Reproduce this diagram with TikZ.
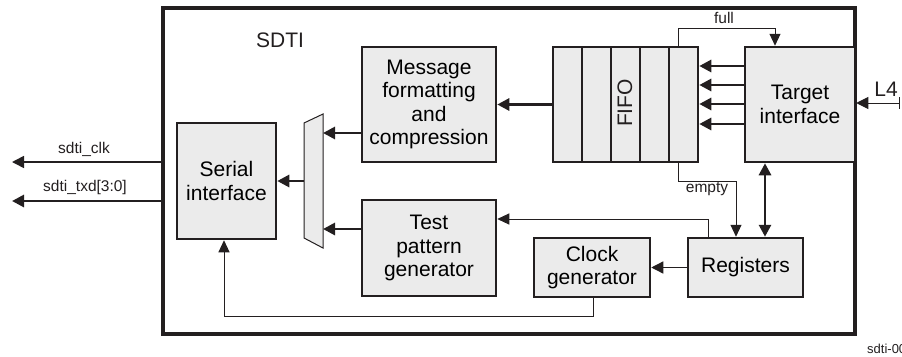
\documentclass[tikz,border=0pt]{standalone}
\usepackage{fontspec}
\setmainfont{Liberation Sans}
\usetikzlibrary{arrows.meta}
\definecolor{boxfill}{HTML}{EBEBEB}
\definecolor{ink}{HTML}{231F20}
\tikzset{
  blk/.style={draw=ink, fill=boxfill, line width=2.5pt, align=center, inner sep=0pt,
    font=\fontsize{21}{23.5}\selectfont},
  tarr/.style={draw=ink, line width=2.8pt, -{Triangle[length=12pt,width=12pt]}},
  narr/.style={draw=ink, line width=1pt, -{Triangle[length=12pt,width=11pt]}},
  lbl/.style={font=\fontsize{15.5}{17}\selectfont, text=ink, inner sep=0pt},
  big/.style={font=\fontsize{21}{23.5}\selectfont, text=ink, inner sep=0pt},
}
\begin{document}
\begin{tikzpicture}[x=1pt,y=-1pt]
\useasboundingbox (0,0) rectangle (902,356);
% outer box
\node[draw=ink, line width=3.5pt, minimum width=692pt, minimum height=326pt, inner sep=0pt] (outer) at (509,171) {};
\node[big] (sdti) at (280,40) {SDTI};
% blocks
\node[blk, minimum width=134pt, minimum height=115pt] (msg) at (429,104.5) {Message\\formatting\\and\\compression};
\node[blk, minimum width=145pt, minimum height=115pt] (fifo) at (625.5,104.5) {};
\foreach \x in {582,611,640,669} \draw[ink, line width=2.5pt] (\x,47) -- (\x,162);
\node[big, rotate=90] (fifolbl) at (625,103) {FIFO};
\node[blk, minimum width=110pt, minimum height=115pt] (target) at (800,104.5) {Target\\interface};
\node[blk, minimum width=99pt, minimum height=116pt] (serial) at (226.5,181) {Serial\\interface};
\node[blk, minimum width=134pt, minimum height=96pt] (test) at (429,248) {Test\\pattern\\generator};
\node[blk, minimum width=116pt, minimum height=59pt] (clock) at (592,267.5) {Clock\\generator};
\node[blk, minimum width=115pt, minimum height=59pt] (regs) at (745.5,267.5) {Registers};
% mux
\draw[ink, fill=boxfill, line width=1pt] (304,123) -- (323,114) -- (323,248) -- (304,238) -- cycle;
\coordinate (muxin1) at (323,133);
\coordinate (muxin2) at (323,229);
\coordinate (muxout) at (304,181);
% helper coordinates
\coordinate (fullL) at (678,28);
\coordinate (fullR) at (775,28);
\coordinate (emL) at (678,181);
\coordinate (emR) at (736,181);
\coordinate (trx) at (765,200);
\coordinate (rt1) at (708,219);
\coordinate (cs1) at (593,316);
\coordinate (cs2) at (224,316);
\coordinate (clkL) at (12,162);
\coordinate (txdL) at (12,201);
\coordinate (l4) at (900,103);
% connectors
\draw[tarr] (fifo.west) -- (msg.east);
\draw[tarr] (msg.west |- muxin1) -- (muxin1);
\draw[tarr] (test.west |- muxin2) -- (muxin2);
\draw[tarr] (muxout) -- (serial.east |- muxout);
\foreach \y in {66,85,104,124} \draw[tarr] (target.west |- 0,\y) -- (fifo.east |- 0,\y);
\draw[draw=ink, line width=1pt, {Bar[width=12pt]}-{Triangle[length=12pt,width=12pt]}] (l4) -- (target.east |- l4);
\node[big] (l4lbl) at (886,89) {L4};
\draw[narr] (fullL |- fifo.north) -- (fullL) -- (fullR) -- (fullR |- target.north);
\node[lbl] (fulllbl) at (724,18) {full};
\draw[narr] (emL |- fifo.south) -- (emL) -- (emR) -- (emR |- regs.north);
\node[lbl] (emptylbl) at (707,189) {empty};
\draw[draw=ink, line width=2.8pt, {Triangle[length=12pt,width=12pt]}-{Triangle[length=12pt,width=12pt]}] (target.south -| trx) -- (regs.north -| trx);
\draw[narr] (rt1 |- regs.north) -- (rt1) -- (test.east |- rt1);
\draw[draw=ink, line width=1.3pt, -{Triangle[length=12pt,width=12pt]}] (regs.west) -- (clock.east);
\draw[narr] (cs1 |- clock.south) -- (cs1) -- (cs2) -- (cs2 |- serial.south);
\draw[draw=ink, line width=1.6pt, -{Triangle[length=12pt,width=12pt]}] (outer.west |- clkL) -- (clkL);
\draw[draw=ink, line width=2.8pt, -{Triangle[length=12pt,width=12pt]}] (outer.west |- txdL) -- (txdL);
\node[lbl] (clklbl) at (84,149) {sdti\_clk};
\node[lbl] (txdlbl) at (85,187) {sdti\_txd[3:0]};
\node[lbl, anchor=west, font=\fontsize{13}{15}\selectfont] (figid) at (867,349) {sdti-001};
\end{tikzpicture}
\end{document}
